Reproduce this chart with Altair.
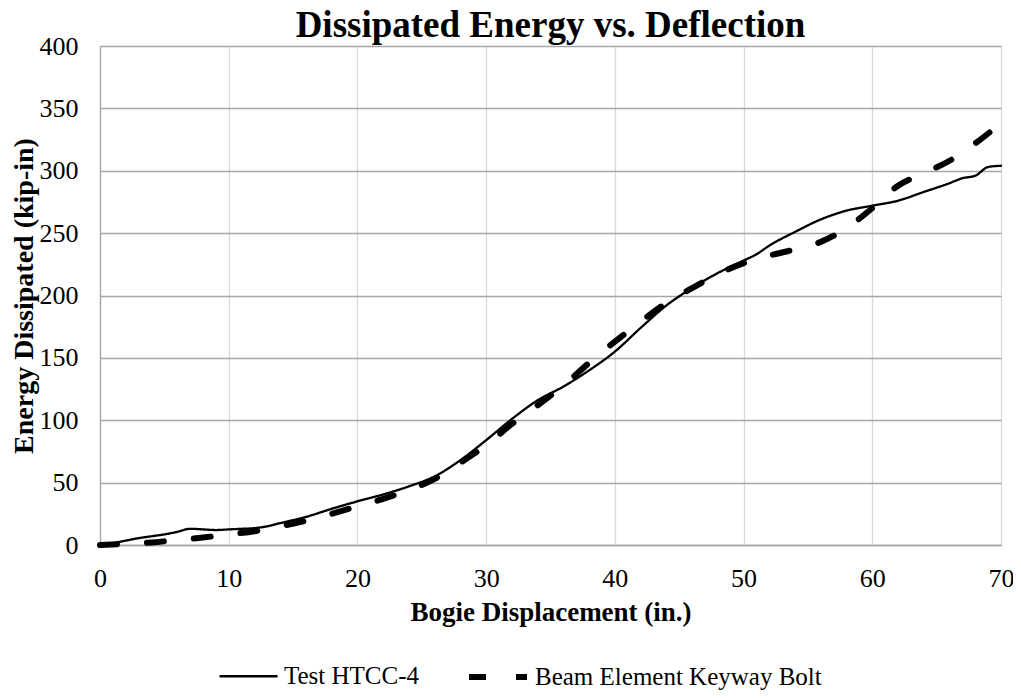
import altair as alt
import pandas as pd

series_names = ["Test HTCC-4", "Beam Element Keyway Bolt"]

test_x = [0, 1, 2, 3, 4, 5, 6, 7, 8, 9, 10, 11, 12, 13, 14, 16, 18, 20, 22, 24,
          26, 28, 30, 32, 34, 36, 38, 40, 42, 44, 46, 48, 50, 51, 52, 54, 56,
          58, 60, 62, 64, 66, 67, 68, 69, 70]
test_y = [0, 1.5, 3.5, 5.5, 7, 8.5, 10.5, 13, 12.5, 12, 12.5, 13, 13.5, 15,
          17.5, 22.5, 29, 35, 40.5, 47, 55, 68, 84, 101, 116, 127, 140, 155,
          174, 192, 206, 218, 228, 233, 240, 251, 261, 268, 272, 276, 283, 290,
          294, 296, 303, 304]

beam_x = [0, 2, 4, 6, 8, 10, 12, 14, 16, 18, 20, 22, 24, 26, 28, 30, 32, 34,
          36, 38, 40, 42, 44, 46, 48, 50, 52, 54, 56, 58, 60, 62, 64, 66, 68, 70]
beam_y = [0, 1, 2, 4, 6, 8.5, 11, 15, 19.5, 25, 31, 37, 44, 53, 66, 80, 97,
          112, 128, 146, 163, 179, 194, 206, 217, 226, 232, 237, 243, 254, 270,
          288, 298, 308, 322, 338]

x_ticks = [0, 10, 20, 30, 40, 50, 60, 70]
y_ticks = [0, 50, 100, 150, 200, 250, 300, 350, 400]

df = pd.concat([
    pd.DataFrame({"disp": test_x, "energy": test_y, "series": series_names[0]}),
    pd.DataFrame({"disp": beam_x, "energy": beam_y, "series": series_names[1]}),
], ignore_index=True)

FONT = "Liberation Serif"

legend = alt.Legend(
    title=None,
    orient="none",
    legendX=118,
    legendY=599,
    direction="horizontal",
    symbolType="stroke",
    symbolSize=3364,
    symbolStrokeColor="black",
    labelFont=FONT,
    labelFontSize=25,
    labelColor="black",
    labelOffset=5,
    labelLimit=500,
    columnPadding=37,
)

chart = alt.Chart(df).mark_line(
    interpolate="monotone", strokeCap="round", strokeJoin="round", color="black"
).encode(
    x=alt.X("disp:Q",
            scale=alt.Scale(domain=[0, 70], nice=False),
            axis=alt.Axis(values=x_ticks, title="Bogie Displacement (in.)",
                          gridColor="#d9d9d9", labelPadding=20, titlePadding=8,
                          labelFlush=False, titleFontSize=27)),
    y=alt.Y("energy:Q",
            scale=alt.Scale(domain=[0, 400], nice=False),
            axis=alt.Axis(values=y_ticks, title="Energy Dissipated (kip-in)",
                          gridColor="#a6a6a6", labelPadding=22, titlePadding=1,
                          labelFlush=False)),
    strokeDash=alt.StrokeDash("series:N",
                              scale=alt.Scale(domain=series_names, range=[[1, 0], [17, 30]]),
                              legend=legend),
    strokeWidth=alt.StrokeWidth("series:N",
                                scale=alt.Scale(domain=series_names, range=[2.3, 6]),
                                legend=legend),
).properties(
    width=901,
    height=499,
    title=alt.Title("Dissipated Energy vs. Deflection", font=FONT, fontSize=37,
                    fontWeight="bold", color="black", anchor="middle", offset=4, dy=15.5),
    autosize=alt.AutoSizeParams(type="none"),
    padding={"left": 92, "top": 38, "right": 12, "bottom": 148},
).configure_axis(
    labelFont=FONT,
    labelFontSize=26,
    labelColor="black",
    titleFont=FONT,
    titleFontSize=28,
    titleFontWeight="bold",
    titleColor="black",
    ticks=False,
    tickSize=0,
    domainColor="#a6a6a6",
    domainWidth=1.3,
    gridWidth=1.3,
).configure_view(strokeWidth=0)

chart.save("out.html", embed_options={"renderer": "svg", "actions": False})
